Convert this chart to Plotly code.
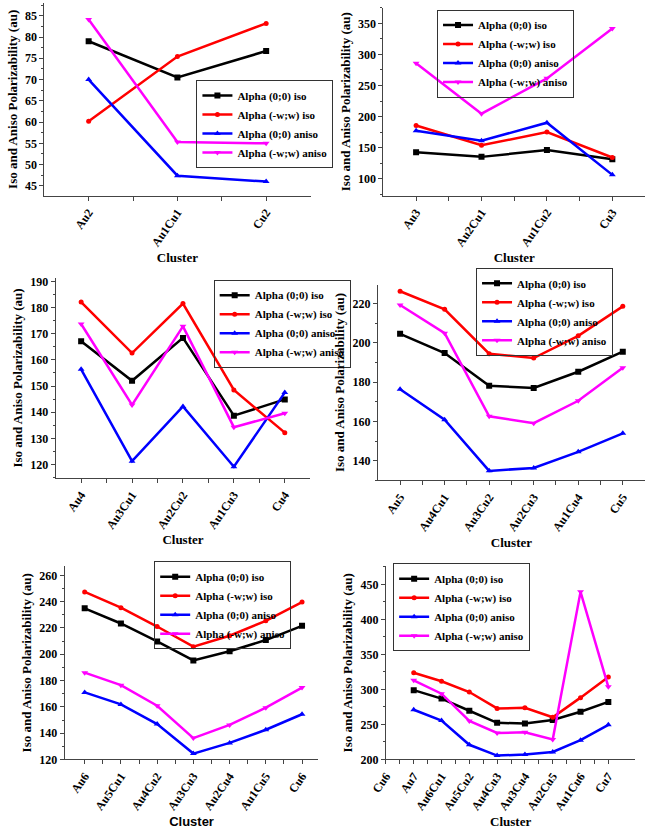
import plotly.graph_objects as go

# ---------------- data ----------------
series_names = ["Alpha (0;0) iso", "Alpha (-w;w) iso", "Alpha (0;0) aniso", "Alpha (-w;w) aniso"]

clusters2 = ["Au2", "Au1Cu1", "Cu2"]
iso00_2 = [79.0, 70.5, 76.7]
isoww_2 = [60.2, 75.4, 83.2]
aniso00_2 = [70.0, 47.4, 46.0]
anisoww_2 = [84.1, 55.3, 55.0]

clusters3 = ["Au3", "Au2Cu1", "Au1Cu2", "Cu3"]
iso00_3 = [142.5, 135.0, 146.0, 131.0]
isoww_3 = [185.5, 153.7, 175.0, 134.0]
aniso00_3 = [177.0, 161.0, 190.0, 106.0]
anisoww_3 = [285.8, 204.6, 261.5, 342.0]

clusters4 = ["Au4", "Au3Cu1", "Au2Cu2", "Au1Cu3", "Cu4"]
iso00_4 = [167.1, 152.0, 168.4, 138.7, 144.9]
isoww_4 = [182.1, 162.6, 181.5, 148.5, 132.2]
aniso00_4 = [156.4, 121.3, 142.2, 119.2, 147.5]
anisoww_4 = [173.7, 142.8, 172.8, 134.3, 139.6]

clusters5 = ["Au5", "Au4Cu1", "Au3Cu2", "Au2Cu3", "Au1Cu4", "Cu5"]
iso00_5 = [204.6, 194.8, 178.2, 177.0, 185.3, 195.5]
isoww_5 = [226.3, 217.1, 194.5, 192.3, 203.6, 218.6]
aniso00_5 = [176.4, 160.9, 134.8, 136.3, 144.5, 153.9]
anisoww_5 = [219.3, 204.9, 162.6, 159.1, 170.5, 187.3]

clusters6 = ["Au6", "Au5Cu1", "Au4Cu2", "Au3Cu3", "Au2Cu4", "Au1Cu5", "Cu6"]
iso00_6 = [234.9, 223.4, 209.8, 195.3, 202.3, 210.8, 221.6]
isoww_6 = [247.4, 235.4, 221.1, 205.8, 214.1, 225.4, 239.7]
aniso00_6 = [171.0, 161.9, 146.9, 124.5, 132.6, 142.6, 154.4]
anisoww_6 = [186.0, 176.5, 160.9, 136.3, 146.3, 159.4, 174.7]

clusters7 = ["Cu6", "Au7", "Au6Cu1", "Au5Cu2", "Au4Cu3", "Au3Cu4", "Au2Cu5", "Au1Cu6", "Cu7"]
iso00_7 = [None, 299.0, 286.9, 269.6, 252.3, 251.4, 256.5, 268.2, 282.2]
isoww_7 = [None, 323.8, 311.7, 296.3, 272.9, 273.8, 260.3, 288.3, 317.8]
aniso00_7 = [None, 271.0, 255.6, 221.0, 205.6, 207.0, 210.7, 227.6, 249.5]
anisoww_7 = [None, 313.1, 293.9, 255.1, 237.9, 238.8, 228.5, 439.3, 303.7]

# ---------------- styling ----------------
colors = ["#000000", "#ff0000", "#0000ff", "#ff00ff"]
symbols = ["square", "circle", "triangle-up", "triangle-down"]
msizes = [6, 5, 6, 6]
SERIF = "Liberation Serif"
W, H = 647, 832

panels = [
    dict(cats=clusters2, ys=[iso00_2, isoww_2, aniso00_2, anisoww_2],
         px=(29, 302), py=(0, 195), yr=[42.7, 88.0], dt=5, xr=[-0.5, 2.5],
         leg=(185, 78), xfont=SERIF),
    dict(cats=clusters3, ys=[iso00_3, isoww_3, aniso00_3, anisoww_3],
         px=(376.7, 645), py=(5, 195), yr=[72.5, 375], dt=50, xr=[-0.5, 3.5],
         leg=(431.7, 6.7), xfont=SERIF),
    dict(cats=clusters4, ys=[iso00_4, isoww_4, aniso00_4, anisoww_4],
         px=(40.7, 301.7), py=(278, 481), yr=[114.8, 191.4], dt=10, xr=[-0.5, 4.5],
         leg=(202.7, 280), xfont=SERIF),
    dict(cats=clusters5, ys=[iso00_5, isoww_5, aniso00_5, anisoww_5],
         px=(371, 645), py=(285, 483.3), yr=[129.9, 229.7], dt=20, xr=[-0.5, 5.5],
         leg=(471.7, 268), xfont=SERIF),
    dict(cats=clusters6, ys=[iso00_6, isoww_6, aniso00_6, anisoww_6],
         px=(50, 310), py=(570, 765.7), yr=[120, 267], dt=20, xr=[-0.55, 6.45],
         leg=(141.7, 565), xfont="Liberation Sans"),
    dict(cats=clusters7, ys=[iso00_7, isoww_7, aniso00_7, anisoww_7],
         px=(379.3, 635), py=(570, 765.7), yr=[200, 476], dt=50, xr=[0, 8.97],
         leg=(386.7, 567), xfont=SERIF),
]

fig = go.Figure()
layout = dict(width=W, height=H, margin=dict(l=0, r=0, t=0, b=0),
              paper_bgcolor="white", plot_bgcolor="white", showlegend=True)

for i, p in enumerate(panels):
    n = i + 1
    xa = "x" if n == 1 else f"x{n}"
    ya = "y" if n == 1 else f"y{n}"
    lg = "legend" if n == 1 else f"legend{n}"
    idx = list(range(len(p["cats"])))
    for k in range(4):
        fig.add_trace(go.Scatter(
            x=idx, y=p["ys"][k], mode="lines+markers", name=series_names[k],
            line=dict(color=colors[k], width=2.5),
            marker=dict(symbol=symbols[k], size=msizes[k], color=colors[k]),
            xaxis=xa, yaxis=ya, legend=lg, connectgaps=False))
    xkey = "xaxis" if n == 1 else f"xaxis{n}"
    ykey = "yaxis" if n == 1 else f"yaxis{n}"
    layout[xkey] = dict(
        domain=[p["px"][0] / W, p["px"][1] / W], anchor=ya,
        range=p["xr"], tickmode="array", tickvals=idx, ticktext=p["cats"],
        tickangle=-55, ticks="outside", ticklen=4, tickwidth=1, tickcolor="#444",
        showline=True, linecolor="#444", linewidth=1, showgrid=False, zeroline=False,
        tickfont=dict(family=SERIF, size=12, color="black", weight="bold"),
        minor=dict(tickvals=[v + 0.5 for v in idx[:-1]], ticks="outside", ticklen=4,
                   tickcolor="#444", showgrid=False),
        title=dict(text="Cluster", standoff=4,
                   font=dict(family=p["xfont"], size=13, color="black", weight="bold")))
    layout[ykey] = dict(
        domain=[1 - p["py"][1] / H, 1 - p["py"][0] / H], anchor=xa,
        range=p["yr"], dtick=p["dt"], ticks="outside", ticklen=4, tickwidth=1,
        tickcolor="#444", showline=True, linecolor="#444", linewidth=1,
        showgrid=False, zeroline=False,
        tickfont=dict(family=SERIF, size=12, color="black", weight="bold"),
        minor=dict(dtick=p["dt"] / 2, ticks="outside", ticklen=2, tickcolor="#444", showgrid=False),
        title=dict(text="Iso and Aniso Polarizability (au)", standoff=4,
                   font=dict(family=SERIF, size=13, color="black", weight="bold")))
    layout[lg] = dict(
        x=p["leg"][0] / W, y=1 - p["leg"][1] / H, xanchor="left", yanchor="top",
        bgcolor="rgba(255,255,255,0)", bordercolor="#333", borderwidth=1,
        font=dict(family=SERIF, size=11, color="black", weight="bold"),
        itemwidth=30, tracegroupgap=0)

fig.update_layout(**layout)
fig.write_html("out.html")
